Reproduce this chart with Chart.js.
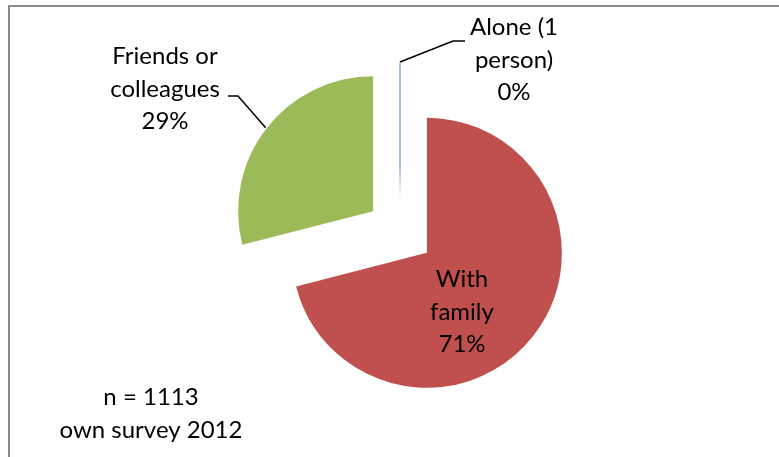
<!DOCTYPE html>
<html>
<head>
<meta charset="utf-8">
<script src="https://cdn.jsdelivr.net/npm/chart.js@4/dist/chart.umd.min.js"></script>
<style>
    html, body { margin: 0; padding: 0; background: #FFFFFF; overflow: hidden; }
    #caixa { position: relative; width: 779px; height: 457px; }
</style>
</head>
<body>
<div id="caixa"><canvas id="grafico"></canvas></div>
<script>
// Dados da pesquisa
const categorias = [['Alone (1', 'person)'], ['With', 'family'], ['Friends or', 'colleagues']];
const percentuais = [0, 71, 29];
const cores = ['#4F81BD', '#C0504D', '#9BBB59'];
const nota = ['n = 1113', 'own survey 2012'];

// Layout dos rótulos (centro do texto, linha de base da primeira linha, pontos da linha guia)
const posRotulos = [
    { x: 514, y: 35, guia: [[453, 41], [465, 41]] },
    { x: 462, y: 287, guia: null },
    { x: 165, y: 64, guia: [[238, 96], [228, 96]] }
];
const posNota = { x: 151, y: 405 };

const FONTE = '24px Lato';
const ENTRELINHA = 32.5;
const RAIO = 135;
const AFASTAMENTO = 34; // distância de cada fatia ao centro (pizza "explodida")

// Afasta cada fatia do centro ao longo do seu ângulo médio
const explodir = {
    id: 'explodir',
    afterDatasetUpdate(chart, args) {
        args.meta.data.forEach(arco => {
            const meio = (arco.startAngle + arco.endAngle) / 2;
            arco.x += Math.cos(meio) * AFASTAMENTO;
            arco.y += Math.sin(meio) * AFASTAMENTO;
        });
    }
};

// Moldura cinza (só topo e lado esquerdo aparecem)
const moldura = {
    id: 'moldura',
    beforeDraw(chart) {
        const ctx = chart.ctx;
        ctx.save();
        ctx.fillStyle = '#8A8A8A';
        ctx.fillRect(8, 5, chart.width, 2);
        ctx.fillRect(8, 5, 2, chart.height);
        ctx.restore();
    }
};

// Rótulos, linhas guia, fatia de 0% e nota
const rotulos = {
    id: 'rotulos',
    afterDatasetsDraw(chart) {
        const ctx = chart.ctx;
        const arcos = chart.getDatasetMeta(0).data;
        ctx.save();

        arcos.forEach((arco, i) => {
            const meio = (arco.startAngle + arco.endAngle) / 2;

            // Fatia vazia: desenhada como um traço do centro até a borda, sumindo perto do centro
            if (percentuais[i] === 0) {
                const bx = arco.x + Math.cos(arco.startAngle) * arco.outerRadius;
                const by = arco.y + Math.sin(arco.startAngle) * arco.outerRadius;
                const grad = ctx.createLinearGradient(bx, by, arco.x, arco.y);
                grad.addColorStop(0, cores[i]);
                grad.addColorStop(0.75, cores[i]);
                grad.addColorStop(1, 'rgba(79,129,189,0)');
                ctx.strokeStyle = grad;
                ctx.lineWidth = 1;
                ctx.beginPath();
                ctx.moveTo(arco.x, arco.y);
                ctx.lineTo(bx, by);
                ctx.stroke();
            }

            const pos = posRotulos[i];
            if (pos.guia) {
                ctx.strokeStyle = '#000000';
                ctx.lineWidth = 1.5;
                ctx.beginPath();
                ctx.moveTo(arco.x + Math.cos(meio) * (arco.outerRadius + 1),
                           arco.y + Math.sin(meio) * (arco.outerRadius + 1));
                pos.guia.forEach(p => ctx.lineTo(p[0], p[1]));
                ctx.stroke();
            }

            const linhas = categorias[i].concat([percentuais[i] + '%']);
            ctx.fillStyle = '#000000';
            ctx.font = FONTE;
            ctx.textAlign = 'center';
            ctx.textBaseline = 'alphabetic';
            linhas.forEach((t, k) => ctx.fillText(t, pos.x, pos.y + k * ENTRELINHA));
        });

        nota.forEach((t, k) => ctx.fillText(t, posNota.x, posNota.y + k * ENTRELINHA));
        ctx.restore();
    }
};

function renderizarGrafico() {
    const ctx = document.getElementById('grafico').getContext('2d');
    return new Chart(ctx, {
        type: 'pie',
        data: {
            labels: categorias,
            datasets: [{
                data: percentuais,
                backgroundColor: cores,
                borderWidth: 0
            }]
        },
        options: {
            responsive: true,
            maintainAspectRatio: false,
            animation: false,
            radius: RAIO,
            layout: {
                padding: { left: 21, right: 0, top: 7, bottom: 0 } // centro em (400, 232)
            },
            plugins: {
                legend: { display: false },
                tooltip: { enabled: false }
            }
        },
        plugins: [moldura, explodir, rotulos]
    });
}

document.fonts.load(FONTE).then(renderizarGrafico, renderizarGrafico);
</script>
</body>
</html>
